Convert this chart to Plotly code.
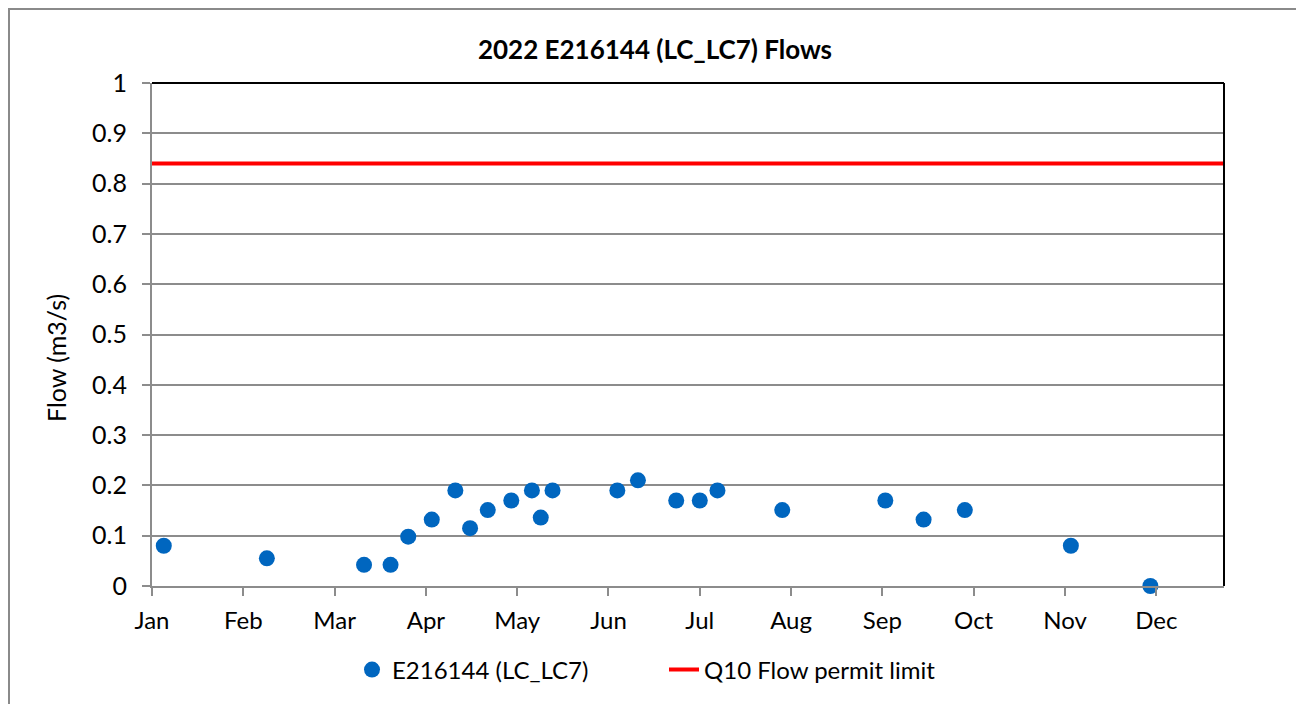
import plotly.graph_objects as go

# ---- data ----
sample_dates = [
    "2022-01-05", "2022-02-09", "2022-03-14", "2022-03-23", "2022-03-29",
    "2022-04-06", "2022-04-14", "2022-04-19", "2022-04-25", "2022-05-03",
    "2022-05-10", "2022-05-13", "2022-05-17", "2022-06-08", "2022-06-15",
    "2022-06-28", "2022-07-06", "2022-07-12", "2022-08-03", "2022-09-07",
    "2022-09-20", "2022-10-04", "2022-11-09", "2022-12-06",
]
flows = [
    0.08, 0.055, 0.042, 0.042, 0.098,
    0.132, 0.19, 0.115, 0.151, 0.17,
    0.19, 0.136, 0.19, 0.19, 0.21,
    0.17, 0.17, 0.19, 0.151, 0.17,
    0.132, 0.151, 0.08, 0.0,
]
limit_dates = ["2022-01-01", "2022-12-31"]
limit_values = [0.84, 0.84]

series_name = "E216144 (LC_LC7)"
limit_name = "Q10 Flow permit limit"
title_text = "2022 E216144 (LC_LC7) Flows"
y_title = "Flow (m3/s)"

FONT = "Lato, 'Open Sans', sans-serif"
GRID = "#8c8c8c"
DAY_MS = 86400000

fig = go.Figure()
fig.add_trace(go.Scatter(
    x=sample_dates, y=flows, mode="markers", name=series_name,
    marker=dict(size=16, color="#0066BF", line=dict(width=0)),
    cliponaxis=False,
))
fig.add_trace(go.Scatter(
    x=limit_dates, y=limit_values, mode="lines", name=limit_name,
    line=dict(color="#FF0000", width=4),
))

# page offset (browser body margin)
OFF = 8
W, H = 1304 - OFF, 704 - OFF
# plot area in page pixels
L, R, T, B = 152, 1224, 83, 586


def px_x(p):
    return (p - L) / (R - L)


def px_y(p):
    return (B - p) / (B - T)


fig.update_layout(
    width=W, height=H,
    margin=dict(l=L - OFF, r=W - (R - OFF), t=T - OFF, b=H - (B - OFF)),
    paper_bgcolor="white", plot_bgcolor="white",
    font=dict(family=FONT, size=24, color="#000000"),
    title=dict(text=f"<b>{title_text}</b>", x=(655 - OFF) / W, xref="container",
               xanchor="center", y=1 - (50 - OFF) / H, yref="container",
               yanchor="middle", font=dict(size=26, family=FONT, color="#000")),
    showlegend=True,
    legend=dict(orientation="h", x=px_x(352), xanchor="left",
                y=px_y(670), yanchor="middle", font=dict(size=24),
                bgcolor="rgba(0,0,0,0)", entrywidth=267),
    xaxis=dict(
        type="date", range=["2022-01-01", "2022-12-31"],
        tick0="2022-01-01", dtick=31 * DAY_MS, tickformat="%b",
        showgrid=False, showline=True, linecolor=GRID, linewidth=2,
        ticks="outside", ticklen=8, tickwidth=2, tickcolor=GRID,
        tickfont=dict(size=24), zeroline=False, ticklabelstandoff=4,
    ),
    yaxis=dict(
        range=[0, 1], dtick=0.1, tick0=0,
        showgrid=True, gridcolor=GRID, gridwidth=2,
        showline=True, linecolor=GRID, linewidth=2,
        ticks="outside", ticklen=8, tickwidth=2, tickcolor=GRID,
        tickfont=dict(size=25), zeroline=False, ticklabelstandoff=10,
    ),
    annotations=[
        dict(text=y_title, xref="paper", yref="paper", x=px_x(56), y=px_y(358),
             xanchor="center", yanchor="middle", textangle=-90, showarrow=False,
             font=dict(size=25)),
    ],
    shapes=[
        # outer chart border
        dict(type="rect", xref="paper", yref="paper",
             x0=px_x(9), x1=px_x(1302.5), y0=px_y(720), y1=px_y(9),
             line=dict(color="#8a8a8a", width=2), layer="below"),
        # plot area top / right border (black)
        dict(type="line", xref="paper", yref="paper", x0=0, x1=1, y0=1, y1=1,
             line=dict(color="#000000", width=2), layer="above"),
        dict(type="line", xref="paper", yref="paper", x0=1, x1=1, y0=0, y1=1,
             line=dict(color="#000000", width=2), layer="above"),
    ],
)

fig.write_html("out.html")
